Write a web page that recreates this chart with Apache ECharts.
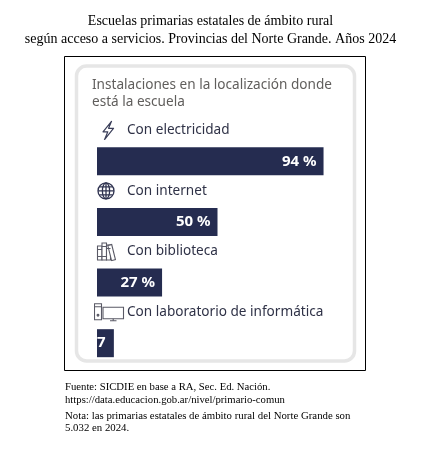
<!DOCTYPE html>
<html>
<head>
<meta charset="utf-8">
<script src="https://cdn.jsdelivr.net/npm/echarts@6/dist/echarts.min.js"></script>
<style>
html,body{margin:0;padding:0;background:#fff;}
#c{width:421px;height:466px;}
</style>
</head>
<body>
<div id="c"></div>
<script>
// ---- data ----
const titleLines = ['Escuelas primarias estatales de ámbito rural', 'según acceso a servicios. Provincias del Norte Grande. Años 2024'];
const subtitle = 'Instalaciones en la localización donde\nestá la escuela';
const categories = ['Con electricidad', 'Con internet', 'Con biblioteca', 'Con laboratorio de informática'];
const iconKeys = ['elec', 'net', 'lib', 'pc'];
const values = [94, 50, 27, 7];
const footerLines = ['Fuente: SICDIE en base a RA, Sec. Ed. Nación.', 'https://data.educacion.gob.ar/nivel/primario-comun'];
const noteLines = ['Nota: las primarias estatales de ámbito rural del Norte Grande son', '5.032 en 2024.'];

// ---- icons (svg) ----
function svgUri(w, h, body) {
  return 'data:image/svg+xml;charset=utf-8,' + encodeURIComponent(
    '<svg xmlns="http://www.w3.org/2000/svg" width="' + w + '" height="' + h + '" viewBox="0 0 ' + w + ' ' + h + '">' + body + '</svg>');
}
const icons = {
  elec: svgUri(33, 20, '<path d="M17.5 1 L9 11.5 H13.8 L10.5 19.3 L19.5 8 H14.6 L17.5 1 Z" fill="none" stroke="#3b3f5a" stroke-width="1.2" stroke-linejoin="round"/>'),
  net: svgUri(33, 20, '<g fill="none" stroke="#2f3350" stroke-width="1.3"><circle cx="12" cy="10" r="8"/><ellipse cx="12" cy="10" rx="3.6" ry="8"/><line x1="12" y1="2" x2="12" y2="18"/><line x1="4" y1="10" x2="20" y2="10"/><line x1="5.2" y1="6" x2="18.8" y2="6"/><line x1="5.2" y1="14" x2="18.8" y2="14"/></g>'),
  lib: svgUri(33, 20, '<g fill="#fff" stroke="#5a5a66" stroke-width="1.1"><rect x="3.5" y="4.5" width="4.5" height="14"/><rect x="8" y="1.5" width="4.5" height="17"/><rect x="12.5" y="3.5" width="4" height="15"/><rect x="17.5" y="3" width="4" height="15.5" transform="rotate(-14 19.5 18.5)"/><line x1="3.5" y1="8" x2="8" y2="8"/><line x1="8" y1="5" x2="12.5" y2="5"/><line x1="12.5" y1="7" x2="16.5" y2="7"/><line x1="3.5" y1="15" x2="8" y2="15"/><line x1="8" y1="15" x2="12.5" y2="15"/></g>'),
  pc: svgUri(33, 20, '<g fill="none" stroke="#5a5a66" stroke-width="1.1"><rect x="0.5" y="1.5" width="7" height="16"/><line x1="0.5" y1="4.5" x2="7.5" y2="4.5"/><circle cx="4" cy="13" r="0.9" fill="#5a5a66"/><rect x="9" y="5" width="20.5" height="11.5"/><line x1="16" y1="18.5" x2="22.5" y2="18.5"/><line x1="19.2" y1="16.5" x2="19.2" y2="18.5"/></g>')
};

const rich = { t: { fontFamily: 'Noto Sans', fontSize: 13.6, color: '#2f3247' } };
iconKeys.forEach(k => { rich[k] = { width: 33, height: 20, backgroundColor: { image: icons[k] } }; });

const barColor = '#252c50';
const axisWidthPx = 241;

const barData = values.map(v => {
  const item = { value: v };
  if (v < 12) {
    item.label = { position: 'insideLeft', distance: 0, width: v / 100 * axisWidthPx, overflow: 'truncate', ellipsis: '' };
  }
  return item;
});

const chart = echarts.init(document.getElementById('c'));
chart.setOption({
  animation: false,
  backgroundColor: '#fff',
  title: [
    { text: titleLines.join('\n'), left: 'center', top: 7, textStyle: { fontFamily: 'Liberation Serif', fontSize: 14, fontWeight: 'normal', color: '#000', lineHeight: 18, align: 'center' } },
    { text: subtitle, left: 87, top: 72, textStyle: { fontFamily: 'Noto Sans', fontSize: 13.6, fontWeight: 'normal', color: '#605e5c', lineHeight: 16.5 } },
    { text: footerLines.join('\n'), left: 60, top: 376, textStyle: { fontFamily: 'Liberation Serif', fontSize: 10.7, fontWeight: 'normal', color: '#000', lineHeight: 12.5 } },
    { text: noteLines.join('\n'), left: 60, top: 405, textStyle: { fontFamily: 'Liberation Serif', fontSize: 10.8, fontWeight: 'normal', color: '#000', lineHeight: 12 } }
  ],
  graphic: [
    { type: 'rect', shape: { x: 64.5, y: 56.5, width: 301, height: 314 }, style: { fill: 'none', stroke: '#000', lineWidth: 1 }, z: 0 },
    { type: 'rect', shape: { x: 76.5, y: 66, width: 278, height: 295, r: 10 }, style: { fill: 'none', stroke: '#e6e6e6', lineWidth: 3.5 }, z: 0 }
  ],
  grid: { left: 97, width: axisWidthPx, top: 131, height: 242.5, containLabel: false },
  xAxis: { type: 'value', min: 0, max: 100, show: false },
  yAxis: {
    type: 'category', inverse: true, data: categories,
    axisLine: { show: false }, axisTick: { show: false }, splitLine: { show: false },
    axisLabel: {
      inside: true, margin: -3, interval: 0, verticalAlign: 'middle', align: 'left',
      padding: [0, 0, 62, 0],
      formatter: (val, idx) => '{' + iconKeys[idx] + '|}{t|' + val + '}',
      rich: rich
    },
    z: 5
  },
  series: [{
    type: 'bar', data: barData, barWidth: 28,
    itemStyle: { color: barColor },
    label: {
      show: true, position: 'insideRight', distance: 7,
      formatter: p => p.value + ' %',
      color: '#fff', fontFamily: 'Noto Sans', fontWeight: 'bold', fontSize: 15
    }
  }]
});
</script>
</body>
</html>
